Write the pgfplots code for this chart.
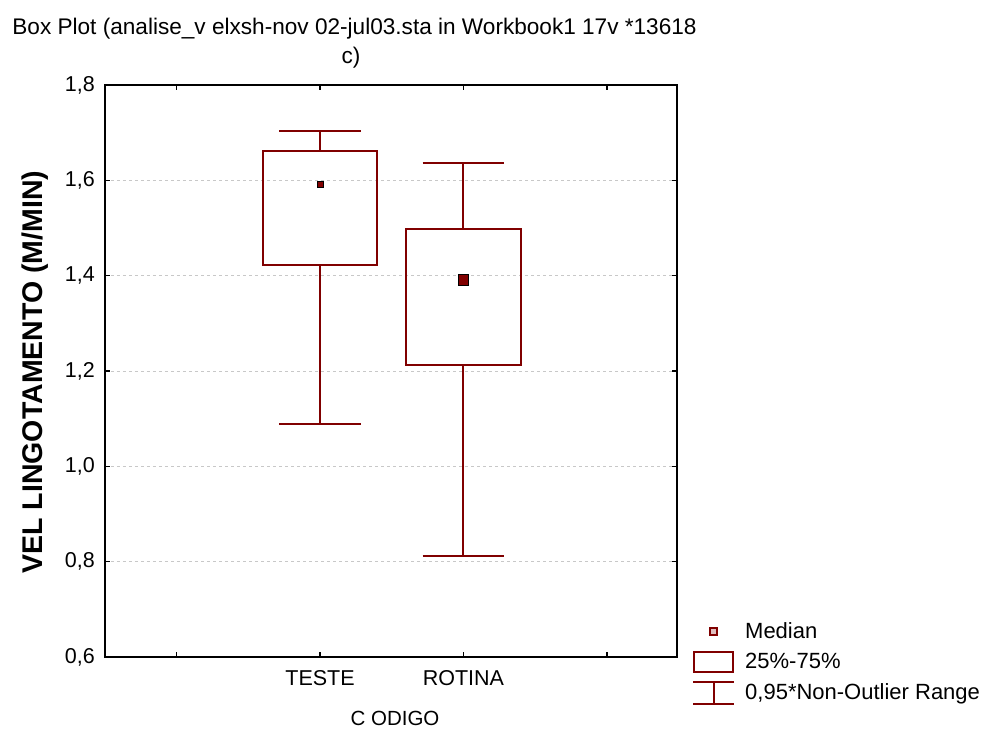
\documentclass[border=0pt]{standalone}
\usepackage{fontspec}
\setmainfont{Liberation Sans}
\usepackage{pgfplots}
\pgfplotsset{compat=1.18}
\usepgfplotslibrary{statistics}
\definecolor{dr}{RGB}{128,0,0}
\definecolor{gridc}{RGB}{200,200,200}
\newcommand{\fs}[1]{\fontsize{#1}{#1}\selectfont}
\begin{document}
\begin{tikzpicture}
\path[use as bounding box] (-105pt,-72pt) rectangle (886pt,657pt);
\begin{axis}[
  scale only axis, width=572pt, height=572pt,
  at={(0pt,0pt)}, anchor=south west,
  xmin=-0.5, xmax=3.49, ymin=0.6, ymax=1.8,
  xtick={0,1,2,3}, xticklabels={,TESTE,ROTINA,},
  ytick={0.6,0.8,1.0,1.2,1.4,1.6,1.8},
  yticklabel={\pgfmathprintnumber[fixed,fixed zerofill,precision=1,use comma,assume math mode=true]{\tick}},
  tick align=inside, major tick length=5pt,
  tick style={line width=1.5pt, black},
  axis line style={line width=1.8pt},
  ymajorgrids, grid style={gridc, dash pattern=on 3pt off 3pt, line width=0.8pt},
  yticklabel style={font=\fs{21.5}, inner sep=0pt, anchor=east, xshift=-10pt},
  xticklabel style={font=\fs{21.5}, inner sep=0pt, anchor=north, yshift=-13pt},
  xlabel={C ODIGO}, xlabel style={font=\fs{20.5}, at={(axis description cs:0.507,-0.108)}, anchor=center},
  ylabel={VEL LINGOTAMENTO (M/MIN)}, ylabel style={font=\fs{28.5}\bfseries, at={(axis description cs:-0.1224,0.498)}, anchor=center},
  boxplot/draw direction=y,
  boxplot/draw/median/.code={},
  legend style={draw=none, fill=none, at={(axis description cs:1.0262,-0.0105)}, anchor=west, inner sep=0pt, font=\fs{22}, row sep=8pt, column sep=0pt, nodes={inner sep=0pt}},
  legend cell align=left,
  legend columns=1,
]
\addplot[forget plot, dr, line width=2pt, boxplot prepared={draw position=1, median=1.590, upper quartile=1.662, lower quartile=1.422, upper whisker=1.7035, lower whisker=1.0885, box extend=0.80, whisker extend=0.57}] coordinates {};
\addplot[forget plot, dr, line width=2pt, boxplot prepared={draw position=2, median=1.391, upper quartile=1.4986, lower quartile=1.2126, upper whisker=1.637, lower whisker=0.8126, box extend=0.80, whisker extend=0.57}] coordinates {};
\addplot[forget plot, only marks, mark=square*, mark size=2.8pt, mark options={draw=none, fill=dr}] coordinates {(1,1.5917)};
\addplot[forget plot, only marks, mark=square*, mark size=5.3pt, mark options={draw=none, fill=dr}] coordinates {(2,1.3916)};
\addlegendimage{legend image code/.code={
  \path[draw=none, fill=none] (0pt,-11pt) rectangle (52pt,11pt);
  \draw[dr, line width=2.2pt, fill=dr!25] (16.5pt,-3.5pt) rectangle (23.5pt,3.5pt);}}
\addlegendentry{Median}
\addlegendimage{legend image code/.code={
  \path[draw=none, fill=none] (0pt,-11pt) rectangle (52pt,11pt);
  \draw[dr, line width=2pt, fill=none] (1pt,-10pt) rectangle (40pt,10pt);}}
\addlegendentry{25\%-75\%}
\addlegendimage{legend image code/.code={
  \path[draw=none, fill=none] (0pt,-11pt) rectangle (52pt,11pt);
  \draw[dr, line width=2pt] (0pt,11pt) -- (41pt,11pt) (20.5pt,11pt) -- (20.5pt,-11.5pt) (0pt,-11.5pt) -- (41pt,-11.5pt);}}
\addlegendentry{0,95*Non-Outlier Range}
\end{axis}
\node[font=\fs{22.6}, inner sep=0pt, anchor=center] at (249.5pt,628pt) {Box Plot (analise\_v elxsh-nov 02-jul03.sta in Workbook1 17v *13618};
\node[font=\fs{22.6}, inner sep=0pt, anchor=center] at (246pt,599pt) {c)};
\end{tikzpicture}
\end{document}
